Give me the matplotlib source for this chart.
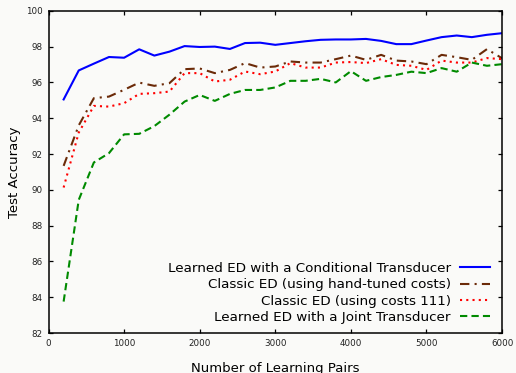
import numpy as np
import matplotlib
matplotlib.use("Agg")
import matplotlib.pyplot as plt

# number of learning pairs (200 .. 6000 in steps of 200)
pairs = list(range(200, 6001, 200))

conditional = [95.05, 96.67, 97.05, 97.42, 97.38, 97.85, 97.5, 97.72, 98.03, 97.98,
               98.0, 97.87, 98.2, 98.22, 98.1, 98.2, 98.3, 98.38, 98.4, 98.4,
               98.43, 98.32, 98.14, 98.14, 98.34, 98.53, 98.62, 98.53, 98.66, 98.75]
hand_tuned = [91.34, 93.6, 95.12, 95.21, 95.59, 95.99, 95.81, 95.96, 96.74, 96.78,
              96.52, 96.7, 97.08, 96.83, 96.89, 97.17, 97.11, 97.11, 97.3, 97.5,
              97.26, 97.54, 97.22, 97.17, 97.02, 97.54, 97.41, 97.26, 97.86, 97.35]
costs_111 = [90.13, 93.2, 94.69, 94.65, 94.84, 95.36, 95.4, 95.49, 96.52, 96.52,
             96.05, 96.15, 96.61, 96.46, 96.61, 97.08, 96.83, 96.83, 97.11, 97.14,
             97.08, 97.3, 96.98, 96.93, 96.7, 97.22, 97.11, 97.11, 97.36, 97.3]
joint = [83.76, 89.44, 91.53, 92.05, 93.1, 93.13, 93.56, 94.2, 94.93, 95.3,
         94.97, 95.36, 95.58, 95.58, 95.72, 96.09, 96.09, 96.2, 96.0, 96.63,
         96.09, 96.3, 96.42, 96.6, 96.52, 96.8, 96.6, 97.11, 96.93, 97.02]

labels = ["Learned ED with a Conditional Transducer",
          "Classic ED (using hand-tuned costs)",
          "Classic ED (using costs 111)",
          "Learned ED with a Joint Transducer"]

bg = "#fafaf8"
fig = plt.figure(figsize=(5.16, 3.73), dpi=100, facecolor=bg)
ax = fig.add_axes([0.094, 0.107, 0.879, 0.864], facecolor=bg)

ax.plot(pairs, conditional, color="#0000ff", lw=1.5, label=labels[0])
ax.plot(pairs, hand_tuned, color="#6b2a08", lw=1.5, dashes=(4.5, 2.5, 1, 2.5), label=labels[1])
ax.plot(pairs, costs_111, color="#ff0000", lw=1.5, dashes=(1, 2), label=labels[2])
ax.plot(pairs, joint, color="#008a00", lw=1.5, dashes=(3.5, 2), label=labels[3])

ax.set_xlim(0, 6000)
ax.set_ylim(82, 100)
ax.set_xticks(np.arange(0, 6001, 1000))
ax.set_yticks(np.arange(82, 100.1, 2))
ax.tick_params(direction="in", length=3, width=0.9, top=True, right=True,
               labelsize=6.3, pad=4, labelcolor="#222222")
for s in ax.spines.values():
    s.set_linewidth(1.1)

ax.set_xlabel("Number of Learning Pairs", fontsize=9.5, labelpad=10)
ax.set_ylabel("Test Accuracy", fontsize=9.5, labelpad=4)

ax.legend(loc="lower right", markerfirst=False, frameon=False, fontsize=9.7,
          handlelength=2.2, handletextpad=0.7, labelspacing=0.24,
          borderaxespad=0, bbox_to_anchor=(0.985, 0.012))

fig.savefig("out.png", dpi=100, facecolor=bg)
